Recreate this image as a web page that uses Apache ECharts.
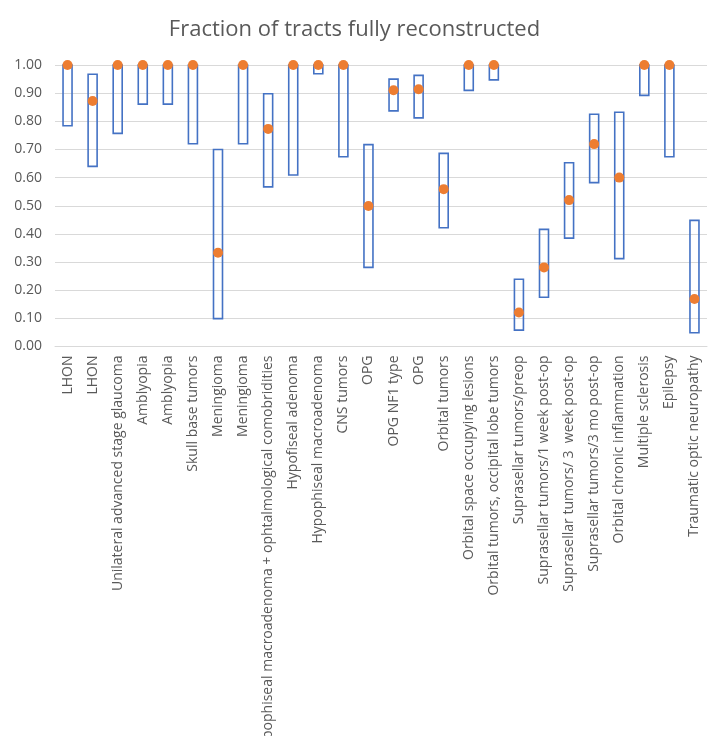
<!DOCTYPE html>
<html>
<head>
<meta charset="utf-8">
<script src="https://cdn.jsdelivr.net/npm/echarts@6/dist/echarts.min.js"></script>
<style>
  html, body { margin: 0; padding: 0; background: #fff; }
  #chart { width: 709px; height: 736px; }
</style>
</head>
<body>
<div id="chart"></div>
<script>
// categories, in order left to right
const categories = [
  'LHON', 'LHON', 'Unilateral advanced stage glaucoma', 'Amblyopia', 'Amblyopia',
  'Skull base tumors', 'Meningioma', 'Meningioma',
  'Hypophiseal macroadenoma + ophtalmological comobridities',
  'Hypofiseal adenoma', 'Hypophiseal macroadenoma', 'CNS tumors', 'OPG', 'OPG NF1 type',
  'OPG', 'Orbital tumors', 'Orbital space occupying lesions',
  'Orbital tumors, occipital lobe tumors', 'Suprasellar tumors/preop',
  'Suprasellar tumors/1 week post-op', 'Suprasellar tumors/ 3  week post-op',
  'Suprasellar tumors/3 mo post-op', 'Orbital chronic inflammation',
  'Multiple sclerosis', 'Epilepsy', 'Traumatic optic neuropathy'
];

// box upper edge
const highs = [
  1.00, 0.967, 1.00, 1.00, 1.00, 1.00, 0.70, 1.00, 0.898, 1.00, 1.00, 1.00, 0.717,
  0.950, 0.963, 0.686, 1.00, 1.00, 0.239, 0.416, 0.653, 0.825, 0.832, 1.00, 1.00, 0.448
];

// box lower edge
const lows = [
  0.784, 0.640, 0.757, 0.861, 0.861, 0.720, 0.099, 0.720, 0.567, 0.609, 0.969, 0.674, 0.281,
  0.837, 0.812, 0.422, 0.910, 0.947, 0.058, 0.175, 0.385, 0.582, 0.312, 0.892, 0.674, 0.049
];

// orange dot
const points = [
  1.00, 0.872, 1.00, 1.00, 1.00, 1.00, 0.333, 1.00, 0.773, 1.00, 1.00, 1.00, 0.499,
  0.910, 0.914, 0.559, 1.00, 1.00, 0.121, 0.281, 0.520, 0.719, 0.600, 1.00, 1.00, 0.169
];

const yTicks = [0, 0.1, 0.2, 0.3, 0.4, 0.5, 0.6, 0.7, 0.8, 0.9, 1.0];

const textColor = '#595959';
const fontFamily = '"Open Sans", "Noto Sans", sans-serif';

const boxData = categories.map((c, i) => [i, lows[i], highs[i]]);

const chart = echarts.init(document.getElementById('chart'));

chart.setOption({
  animation: false,
  backgroundColor: '#fff',
  title: {
    text: 'Fraction of tracts fully reconstructed',
    left: 'center',
    top: 14,
    textStyle: { color: textColor, fontSize: 22, fontWeight: 'normal', fontFamily: fontFamily }
  },
  grid: { left: 55, right: 2, top: 65, bottom: 389.5, outerBoundsMode: 'none', containLabel: false },
  xAxis: {
    type: 'category',
    data: categories,
    boundaryGap: true,
    axisLine: { lineStyle: { color: '#d9d9d9' } },
    axisTick: { show: false },
    axisLabel: {
      interval: 0,
      rotate: 90,
      color: textColor,
      fontSize: 14,
      fontFamily: fontFamily,
      margin: 9
    }
  },
  yAxis: {
    type: 'value',
    min: yTicks[0],
    max: yTicks[yTicks.length - 1],
    interval: 0.1,
    axisLine: { show: false },
    axisTick: { show: false },
    splitLine: { lineStyle: { color: '#d9d9d9', width: 1 } },
    axisLabel: {
      color: textColor,
      fontSize: 14,
      fontFamily: fontFamily,
      margin: 13,
      formatter: v => v.toFixed(2)
    }
  },
  series: [
    {
      type: 'custom',
      data: boxData,
      encode: { x: 0, y: [1, 2] },
      renderItem: function (params, api) {
        const x = api.value(0);
        const lo = api.coord([x, api.value(1)]);
        const hi = api.coord([x, api.value(2)]);
        const w = 9;
        return {
          type: 'rect',
          shape: { x: lo[0] - w / 2, y: hi[1], width: w, height: lo[1] - hi[1] },
          style: { fill: 'none', stroke: '#4472C4', lineWidth: 1.6 }
        };
      },
      z: 2
    },
    {
      type: 'scatter',
      data: points,
      symbol: 'circle',
      symbolSize: 10,
      itemStyle: { color: '#ED7D31', opacity: 1 },
      z: 3
    }
  ]
});
</script>
</body>
</html>
